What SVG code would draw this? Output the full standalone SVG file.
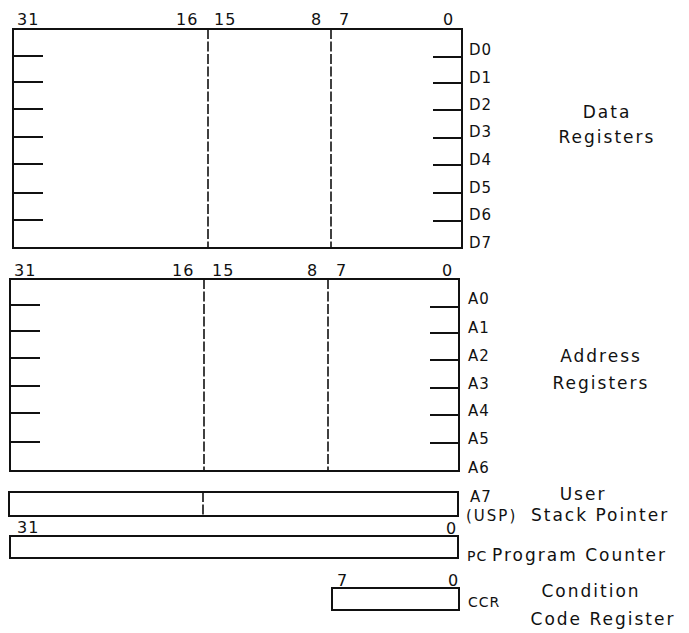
<svg xmlns="http://www.w3.org/2000/svg" width="689" height="633" viewBox="0 0 689 633">
<style>
.box{fill:none;stroke:#111;stroke-width:2}
.tk{stroke:#111;stroke-width:2}
.ds{stroke:#111;stroke-width:1.6;stroke-dasharray:10 2.5}
.bit{font-family:"DejaVu Sans",sans-serif;font-size:16px;fill:#111;letter-spacing:1px}
.reg{font-family:"DejaVu Sans",sans-serif;font-size:15px;fill:#111;letter-spacing:1px}
.sm{font-family:"DejaVu Sans",sans-serif;font-size:14px;fill:#111;letter-spacing:1px}
.cap{font-family:"DejaVu Sans",sans-serif;font-size:17px;fill:#111;letter-spacing:2px}
.mid{text-anchor:middle}
</style>
<rect width="689" height="633" fill="#fff"/>
<g id="data-registers">
<rect class="box" x="13" y="29" width="449" height="219"/>
<line class="ds" x1="208" y1="29" x2="208" y2="248"/>
<line class="ds" x1="331" y1="29" x2="331" y2="248"/>
<path class="tk" d="M13 56H43M13 82H43M13 109H43M13 137H43M13 164H43M13 193H43M13 220H43M433 57H462M433 83H462M433 110H462M433 138H462M433 165H462M433 193H462M433 221H462"/>
<text class="bit" x="17" y="25">31</text>
<text class="bit" x="176" y="25">16</text>
<text class="bit" x="214" y="25">15</text>
<text class="bit" x="311" y="25">8</text>
<text class="bit" x="339" y="25">7</text>
<text class="bit" x="443" y="25">0</text>
<text class="reg" x="469" y="55">D0</text>
<text class="reg" x="469" y="83">D1</text>
<text class="reg" x="469" y="110">D2</text>
<text class="reg" x="469" y="137">D3</text>
<text class="reg" x="469" y="165">D4</text>
<text class="reg" x="469" y="193">D5</text>
<text class="reg" x="469" y="220">D6</text>
<text class="reg" x="469" y="248">D7</text>
<text class="cap mid" x="607" y="118">Data</text>
<text class="cap mid" x="607" y="143">Registers</text>
</g>
<g id="address-registers">
<rect class="box" x="10" y="279" width="449" height="192"/>
<line class="ds" x1="204" y1="279" x2="204" y2="471"/>
<line class="ds" x1="328" y1="279" x2="328" y2="471"/>
<path class="tk" d="M10 305H40M10 331H40M10 358H40M10 386H40M10 413H40M10 442H40M430 307H459M430 333H459M430 360H459M430 388H459M430 415H459M430 443H459"/>
<text class="bit" x="14" y="276">31</text>
<text class="bit" x="172" y="276">16</text>
<text class="bit" x="212" y="276">15</text>
<text class="bit" x="307" y="276">8</text>
<text class="bit" x="336" y="276">7</text>
<text class="bit" x="442" y="276">0</text>
<text class="reg" x="468" y="304">A0</text>
<text class="reg" x="468" y="333">A1</text>
<text class="reg" x="468" y="361">A2</text>
<text class="reg" x="468" y="389">A3</text>
<text class="reg" x="468" y="416">A4</text>
<text class="reg" x="468" y="444">A5</text>
<text class="reg" x="468" y="473">A6</text>
<text class="cap mid" x="601" y="362">Address</text>
<text class="cap mid" x="601" y="389">Registers</text>
</g>
<g id="usp">
<rect class="box" x="9" y="492" width="449" height="24"/>
<line class="ds" x1="203" y1="492" x2="203" y2="516"/>
<text class="reg" x="470" y="502">A7</text>
<text class="reg" x="466" y="521" style="letter-spacing:2px">(USP)</text>
<text class="cap mid" x="583" y="500">User</text>
<text class="cap" x="531" y="521">Stack Pointer</text>
</g>
<g id="pc">
<rect class="box" x="10" y="536" width="448" height="22"/>
<text class="bit" x="17" y="533">31</text>
<text class="bit" x="446" y="534">0</text>
<text class="sm" x="467" y="561">PC</text>
<text class="cap" x="492" y="561">Program Counter</text>
</g>
<g id="ccr">
<rect class="box" x="332" y="588" width="127" height="22"/>
<text class="bit" x="337" y="586">7</text>
<text class="bit" x="448" y="586">0</text>
<text class="sm" x="468" y="607">CCR</text>
<text class="cap mid" x="591" y="597">Condition</text>
<text class="cap mid" x="603" y="625">Code Register</text>
</g>
<g id="connectors"/>
</svg>
